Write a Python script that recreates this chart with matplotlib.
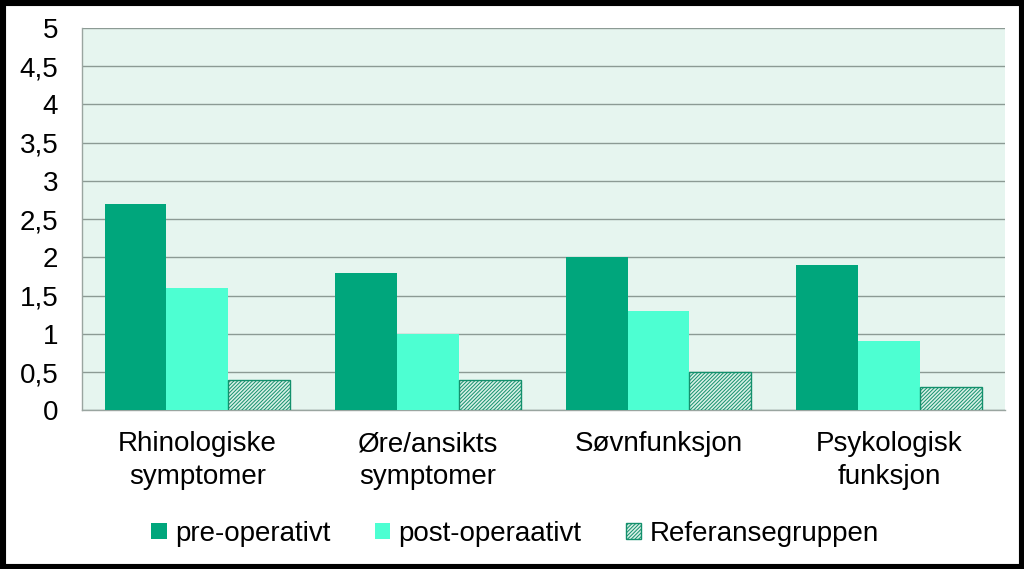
import matplotlib
matplotlib.use("Agg")
import matplotlib.pyplot as plt
import numpy as np
from matplotlib.patches import Rectangle

plt.rcParams['font.family'] = ['Liberation Sans', 'DejaVu Sans']
plt.rcParams['hatch.linewidth'] = 0.7

categories = ["Rhinologiske\nsymptomer", "Øre/ansikts\nsymptomer", "Søvnfunksjon", "Psykologisk\nfunksjon"]
series_names = ["pre-operativt", "post-operaativt", "Referansegruppen"]
pre = [2.7, 1.8, 2.0, 1.9]
post = [1.6, 1.0, 1.3, 0.9]
ref = [0.4, 0.4, 0.5, 0.3]
yticks = [0, 0.5, 1, 1.5, 2, 2.5, 3, 3.5, 4, 4.5, 5]
ytick_labels = ["0", "0,5", "1", "1,5", "2", "2,5", "3", "3,5", "4", "4,5", "5"]

FS = 20

fig = plt.figure(figsize=(10.24, 5.69), dpi=100)
ax = fig.add_axes([0.080, 0.279, 0.901, 0.672])
ax.set_facecolor('#E6F5EF')

x = np.arange(len(categories))
w = 0.268
ax.bar(x - w, pre, w, color='#00A67C', label=series_names[0], zorder=3)
ax.bar(x, post, w, color='#4DFFD2', label=series_names[1], zorder=3)
ax.bar(x + w, ref, w, facecolor='#D8F0E6', edgecolor='#13906C', hatch='/////////',
       linewidth=1.0, label=series_names[2], zorder=3)

ax.set_xlim(-0.5, len(categories) - 0.5)
ax.set_ylim(0, 5)
ax.set_yticks(yticks)
ax.set_yticklabels(ytick_labels)
ax.set_xticks(x)
ax.set_xticklabels(categories, linespacing=1.35)
ax.tick_params(axis='both', length=0, labelsize=FS, colors='black')
ax.tick_params(axis='x', pad=15)
ax.tick_params(axis='y', pad=17)
ax.yaxis.grid(True, color='#8C9A94', linewidth=1.0, zorder=0)
for s in ['top', 'right']:
    ax.spines[s].set_visible(False)
ax.spines['left'].set_color('#9AA5A0')
ax.spines['bottom'].set_color('#9AA5A0')
ax.spines['left'].set_linewidth(1.0)
ax.spines['bottom'].set_linewidth(1.0)

leg = fig.legend(loc='center', bbox_to_anchor=(0.503, 0.062), ncol=3, frameon=False,
                 fontsize=FS, handlelength=0.55, handleheight=0.55, handletextpad=0.3,
                 columnspacing=1.6)

fig.patches.append(Rectangle((0, 0), 1, 1, transform=fig.transFigure, fill=False,
                             edgecolor='black', linewidth=8, zorder=10))

fig.savefig('out.png', dpi=100)
